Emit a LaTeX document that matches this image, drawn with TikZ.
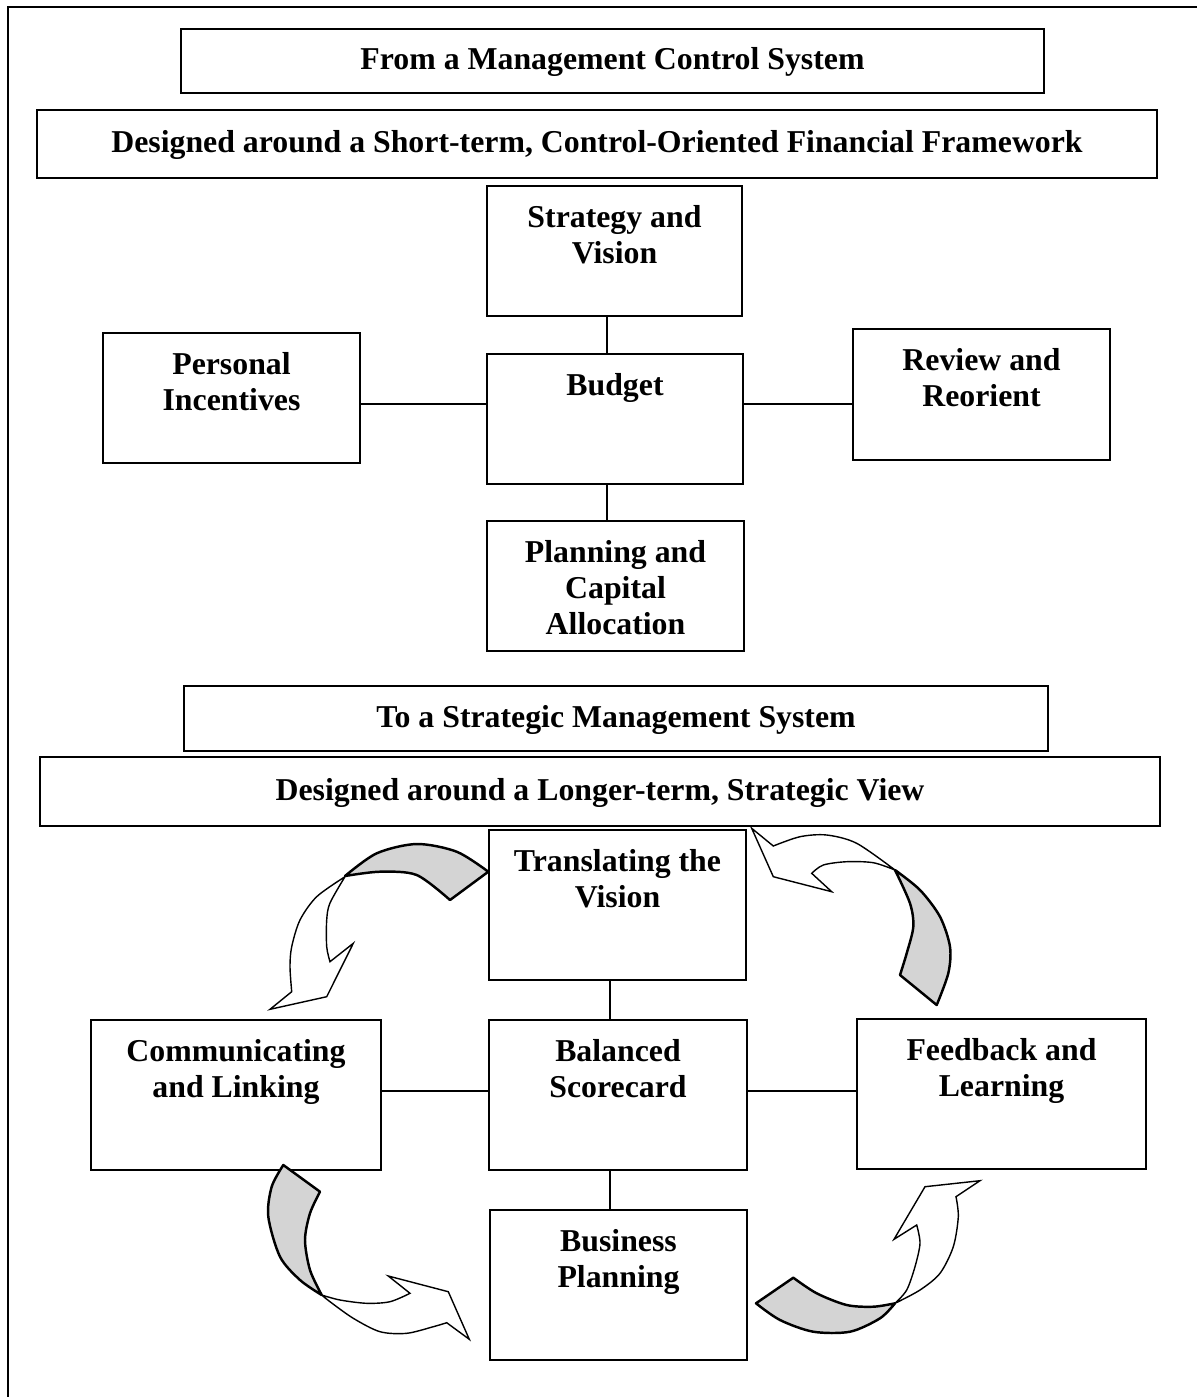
\documentclass[tikz,border=0pt]{standalone}
\usepackage{fontspec}
\setmainfont{Liberation Serif}
\usetikzlibrary{fit}
\begin{document}
\begin{tikzpicture}[x=0.02cm,y=-0.02cm,
  ttl/.style={font=\bfseries\fontsize{18.1}{20.5}\selectfont},
  box/.style={draw, line width=1.1pt, inner sep=0pt},
  mid/.style={label={[ttl, inner sep=0pt, yshift=-0.02cm]center:#1}},
  top/.style={label={[ttl, align=center, anchor=north, inner sep=0pt, yshift=-0.40cm]north:#1}},
  link/.style={line width=0.8pt},
  band/.style={draw, line width=1.4pt, fill=black!17, line join=round},
  shaft/.style={draw, line width=0.8pt, fill=white, line join=miter}]
\useasboundingbox (0,0) rectangle (1197,1397);

% frame
\draw[line width=1.1pt] (1197,7) -- (8,7) -- (8,1397);

% ---- management control system ----
\node[box, fit={(181,29) (1044,93)}, mid={From a Management Control System}] (h1) {};
\node[box, fit={(37,110) (1157,178)}, mid={Designed around a Short-term, Control-Oriented Financial Framework}] (h2) {};
\node[box, fit={(487,186) (742,316)}, top={Strategy and\\Vision}] (sv) {};
\node[box, fit={(487,354) (743,484)}, top={Budget}] (bud) {};
\node[box, fit={(103,333) (360,463)}, top={Personal\\Incentives}] (pi) {};
\node[box, fit={(853,329) (1110,460)}, top={Review and\\Reorient}] (rr) {};
\node[box, fit={(487,521) (744,651)}, top={Planning and\\Capital\\Allocation}] (pca) {};

\draw[link] (sv.south -| 607,0) -- (bud.north -| 607,0);
\draw[link] (bud.south -| 607,0) -- (pca.north -| 607,0);
\draw[link] (pi.east |- 0,404) -- (bud.west |- 0,404);
\draw[link] (bud.east |- 0,404) -- (rr.west |- 0,404);

% ---- strategic management system ----
\node[box, fit={(184,686) (1048,751)}, mid={To a Strategic Management System}] (h3) {};
\node[box, fit={(40,757) (1160,826)}, mid={Designed around a Longer-term, Strategic View}] (h4) {};
\node[box, fit={(489,830) (746,980)}, top={Translating the\\Vision}] (tv) {};
\node[box, fit={(489,1020) (747,1170)}, top={Balanced\\Scorecard}] (bsc) {};
\node[box, fit={(91,1020) (381,1170)}, top={Communicating\\and Linking}] (cl) {};
\node[box, fit={(857,1019) (1146,1169)}, top={Feedback and\\Learning}] (fl) {};
\node[box, fit={(490,1210) (747,1360)}, top={Business\\Planning}] (bp) {};

\draw[link] (tv.south -| 610,0) -- (bsc.north -| 610,0);
\draw[link] (bsc.south -| 610,0) -- (bp.north -| 610,0);
\draw[link] (cl.east |- 0,1091) -- (bsc.west |- 0,1091);
\draw[link] (bsc.east |- 0,1091) -- (fl.west |- 0,1091);

% ---- twisted curved arrows ----
% top left
\draw[shaft] plot[smooth] coordinates {(345,876.7) (316.7,896.7) (300,920) (291.7,946.7) (290,966.7) (291.7,991.7)}
  -- (270,1009.3) -- (326.7,996.7) -- (353.3,943.3)
  -- plot[smooth] coordinates {(330,961.7) (326.7,946.7) (326.7,920) (330,903) (345,876.7)} -- cycle;
\draw[band] plot[smooth] coordinates {(345,876) (376.7,853.3) (416.7,844) (456.7,851.7) (488.3,871.7)}
  -- (450,900)
  -- plot[smooth] coordinates {(450,900) (416.7,875) (380,871.7) (345,876)} -- cycle;

% top right
\draw[shaft] (751.7,828.3) -- (773.3,846)
  -- plot[smooth] coordinates {(773.3,846) (800,836.7) (826.7,835) (856.7,843.3) (895,870)}
  -- plot[smooth] coordinates {(895,870) (873.3,862.7) (846.7,861.7) (823.3,865) (811.7,873.3)}
  -- (831.7,891.7) -- (773.3,876.7) -- cycle;
\draw[band] plot[smooth] coordinates {(895,870) (920,890) (940,916.7) (950,946.7) (948.3,973.3) (936.7,1005)}
  -- (900,975)
  -- plot[smooth] coordinates {(900,975) (906.7,953.3) (913.3,926.7) (910,903.3) (895,870)} -- cycle;

% bottom left
\draw[shaft] plot[smooth] coordinates {(321.7,1295) (340,1300) (366.7,1303.3) (390,1301.7) (410,1293.3)}
  -- (388.3,1276) -- (448.3,1291.7) -- (469.3,1339.3)
  -- plot[smooth] coordinates {(446.7,1322.7) (433.3,1326.7) (406.7,1333.3) (380,1331.7) (353.3,1318.3) (330,1301.7) (321.7,1295)} -- cycle;
\draw[band] plot[smooth] coordinates {(283.3,1165) (271.7,1186.7) (268.3,1216.7) (280,1256.7) (300,1280) (321.7,1295)}
  -- plot[smooth] coordinates {(321.7,1295) (310,1270) (305,1240) (310,1213.3) (320,1191.7)} -- cycle;

% bottom right
\draw[shaft] plot[smooth] coordinates {(895,1303.3) (906.7,1290) (915,1266.7) (920,1243.3) (916.7,1225)}
  -- (894,1239.3) -- (925,1186.7) -- (980,1180.7)
  -- plot[smooth] coordinates {(956,1196.7) (958.3,1216.7) (953.3,1246.7) (940,1273.3) (920,1290) (895,1303.3)} -- cycle;
\draw[band] plot[smooth] coordinates {(793.3,1277.7) (816.7,1293.3) (846.7,1305) (873.3,1306.7) (895,1303.3)}
  -- plot[smooth] coordinates {(895,1303.3) (880,1318.3) (850,1331.7) (813.3,1331.7) (780,1320) (756,1303.3)} -- cycle;
\end{tikzpicture}
\end{document}
